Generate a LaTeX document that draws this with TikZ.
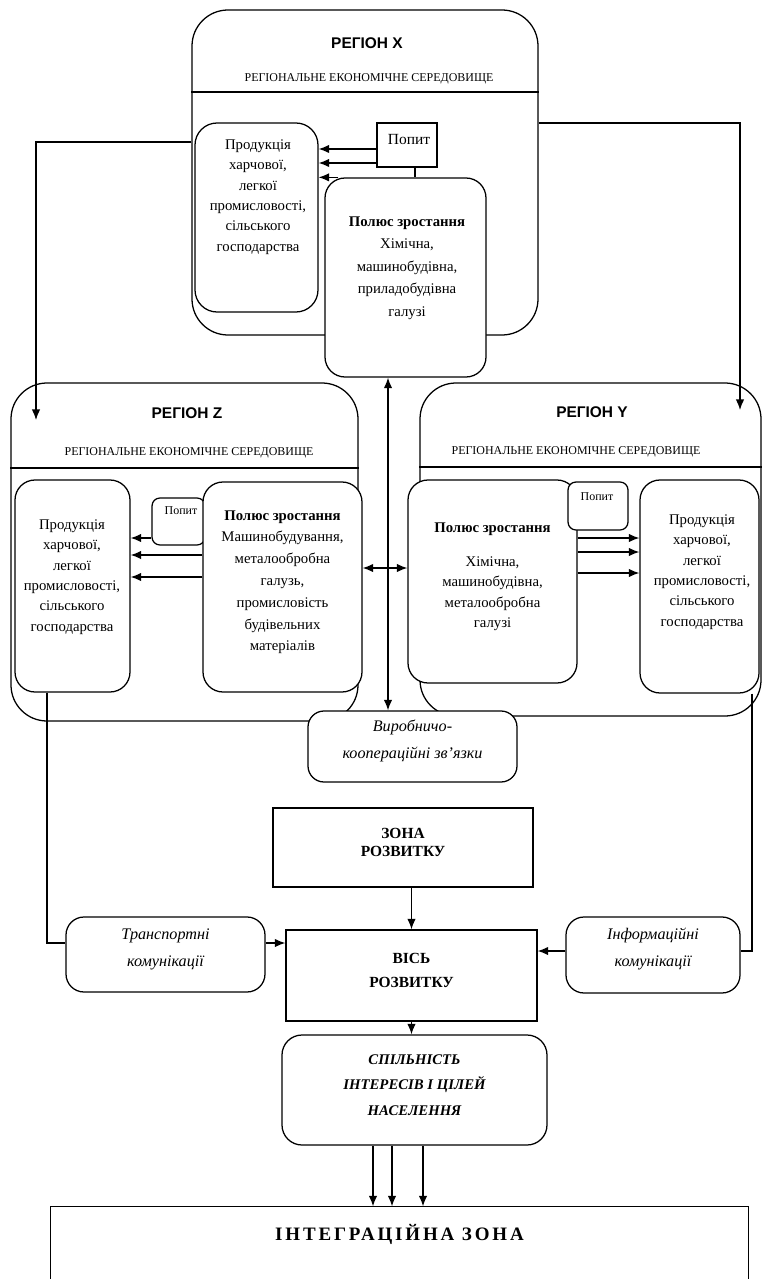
\documentclass[tikz,border=0pt]{standalone}
\usepackage{fontspec}
\setmainfont{Liberation Serif}
\setsansfont{Liberation Sans}
\usetikzlibrary{arrows.meta,fit}

\begin{document}
\begin{tikzpicture}[x=0.025cm, y=-0.025cm, line width=0.9pt,
  >={Latex[length=7.5pt,width=6pt]},
  region/.style={draw, fill=white, rounded corners=0.9cm, inner sep=0pt},
  inbox/.style={draw, fill=white, rounded corners=0.5cm, inner sep=0pt},
  demand/.style={draw, fill=white, inner sep=0pt},
  sqbox/.style={draw, fill=white, inner sep=0pt, align=center},
  txt/.style={align=center, font=\fontsize{10.5}{14.5}\selectfont},
  ttl/.style={font=\sffamily\bfseries\fontsize{11}{12}\selectfont},
  env/.style={font=\fontsize{8.5}{10}\selectfont},
  itxt/.style={align=center, font=\itshape\fontsize{11.5}{19}\selectfont}]
  \useasboundingbox (0,0) rectangle (762,1279);

  % region X
  \node[region, fit={(192,10) (538,335)}] (rx) {};
  \draw (rx.west |- 0,92) -- (rx.east |- 0,92);
  \node[ttl] (rxt) at (367,43) {РЕГІОН X};
  \node[env] (rxe) at (369,79) {РЕГІОНАЛЬНЕ ЕКОНОМІЧНЕ СЕРЕДОВИЩЕ};
  \node[inbox, rounded corners=0.55cm, fit={(195,123) (318,312)}] (prx) {};
  \node[txt] (prxt) at (258,197)
    {Продукція\\харчової,\\легкої\\промисловості,\\сільського\\господарства};
  \node[inbox, fit={(325,178) (486,377)}] (px) {};
  \node[txt, font=\fontsize{10.5}{16}\selectfont] (pxt) at (407,268)
    {\textbf{Полюс зростання}\\Хімічна,\\машинобудівна,\\приладобудівна\\галузі};
  \node[demand, fit={(377,123) (437,167)}] (dx) {};
  \node[txt, font=\fontsize{11}{12}\selectfont] (dxt) at (409,140) {Попит};

  % region Z
  \node[region, fit={(11,383) (358,721)}] (rz) {};
  \draw (rz.west |- 0,468) -- (rz.east |- 0,468);
  \node[ttl] (rzt) at (187,413) {РЕГІОН Z};
  \node[env] (rze) at (189,453) {РЕГІОНАЛЬНЕ ЕКОНОМІЧНЕ СЕРЕДОВИЩЕ};
  \node[inbox, fit={(15,480) (130,692)}] (prz) {};
  \node[txt] (przt) at (72,577)
    {Продукція\\харчової,\\легкої\\промисловості,\\сільського\\господарства};
  \node[demand, rounded corners=0.2cm, fit={(152,498) (205,545)}] (dz) {};
  \node[env] (dzt) at (181,511) {Попит};
  \node[inbox, txt, font=\fontsize{10.5}{15.5}\selectfont, fit={(203,482) (362,692)}] (pz)
    {\textbf{Полюс зростання}\\Машинобудування,\\металообробна\\галузь,\\промисловість\\будівельних\\матеріалів};

  % region Y
  \node[region, fit={(420,383) (761,716)}] (ry) {};
  \draw (ry.west |- 0,467) -- (ry.east |- 0,467);
  \node[ttl] (ryt) at (592,412) {РЕГІОН Y};
  \node[env] (rye) at (576,452) {РЕГІОНАЛЬНЕ ЕКОНОМІЧНЕ СЕРЕДОВИЩЕ};
  \node[inbox, txt, fit={(408,480) (577,683)}] (py)
    {\textbf{Полюс зростання}\\[10pt]Хімічна,\\машинобудівна,\\металообробна\\галузі};
  \node[demand, rounded corners=0.2cm, fit={(568,482) (628,530)}] (dy) {};
  \node[env] (dyt) at (597,497) {Попит};
  \node[inbox, fit={(640,480) (759,693)}] (pry) {};
  \node[txt] (pryt) at (702,572)
    {Продукція\\харчової,\\легкої\\промисловості,\\сільського\\господарства};

  % links between the regions
  \node[inbox, itxt, rounded corners=0.4cm, fit={(308,711) (517,782)}] (vz)
    {Виробничо-\\коопераційні зв’язки};
  \coordinate (jn) at (388,568);
  \coordinate (zin) at (36,420);
  \coordinate (yin) at (740,410);

  % development zone and axis
  \node[sqbox, font=\bfseries\fontsize{11}{12.5}\selectfont, fit={(273,808) (533,887)}] (zr)
    {ЗОНА\\РОЗВИТКУ};
  \node[sqbox, font=\bfseries\fontsize{11}{17}\selectfont, fit={(286,930) (537,1021)}] (vr)
    {ВІСЬ\\РОЗВИТКУ};
  \node[inbox, itxt, rounded corners=0.45cm, fit={(66,917) (265,992)}] (tk)
    {Транспортні\\комунікації};
  \node[inbox, itxt, rounded corners=0.45cm, fit={(566,917) (740,993)}] (ik)
    {Інформаційні\\комунікації};
  \node[inbox, align=center, font=\bfseries\itshape\fontsize{10.5}{18}\selectfont,
    fit={(282,1035) (547,1145)}] (sp) {СПІЛЬНІСТЬ\\ІНТЕРЕСІВ І ЦІЛЕЙ\\НАСЕЛЕННЯ};
  \node[inner sep=0pt, font=\bfseries\fontsize{13.5}{15}\selectfont\addfontfeatures{LetterSpace=15},
    fit={(51,1207) (748,1279)}] (iz) {ІНТЕГРАЦІЙНА ЗОНА};
  \draw (iz.south west) -- (iz.north west) -- (iz.north east) -- (iz.south east);
  \coordinate (lt) at (47,943);
  \coordinate (rt) at (752,951);

  % demand and growth pole arrows
  \draw[->] (dx.west |- 0,149) -- (prx.east |- 0,149);
  \draw[->] (dx.west |- 0,163) -- (prx.east |- 0,163);
  \draw[->] ([xshift=0.35cm]px.north west) -- (prx.east |- px.north);
  \draw (dx.south -| 415,0) -- (px.north -| 415,0);
  \draw[->] (dz.west |- 0,538) -- (prz.east |- 0,538);
  \foreach \ya in {555,577}
    \draw[->] (pz.west |- 0,\ya) -- (prz.east |- 0,\ya);
  \foreach \ya in {538,552,573}
    \draw[->] (py.east |- 0,\ya) -- (pry.west |- 0,\ya);

  % outer loops
  \draw[->] (rx.west |- 0,142) -| (zin);
  \draw[->] (rx.east |- 0,123) -| (yin);
  \draw[->] (jn) -- (jn |- px.south);
  \draw[->] (jn) -- (jn |- vz.north);
  \draw[->] (jn) -- (jn -| pz.east);
  \draw[->] (jn) -- (jn -| py.west);
  \draw (prz.south -| lt) -- (lt) -- (tk.west |- lt);
  \draw[->] (tk.east |- lt) -- (vr.west |- lt);
  \draw (pry.south -| rt) -- (rt) -- (ik.east |- rt);
  \draw[->] (ik.west |- rt) -- (vr.east |- rt);

  % down to the integration zone
  \draw[->] (vr.north |- zr.south) -- (vr.north);
  \draw[->] (vr.south) -- (vr.south |- sp.north);
  \foreach \xa in {373,392,423}
    \draw[->] (sp.south -| \xa,0) -- (iz.north -| \xa,0);
\end{tikzpicture}
\end{document}
